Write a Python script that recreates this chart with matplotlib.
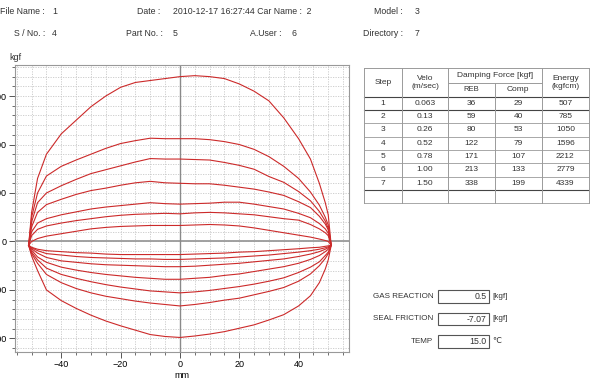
import matplotlib
matplotlib.use("Agg")
import matplotlib.pyplot as plt
from matplotlib.ticker import MultipleLocator

plt.rcParams['font.family'] = ['Liberation Sans', 'DejaVu Sans']

# header fields
header_row1 = [("File Name :", "1"), ("Date :", "2010-12-17 16:27:44 Car Name :  2"), ("Model :", "3")]
header_row2 = [("S / No. :", "4"), ("Part No. :", "5"), ("A.User :", "6"), ("Directory :", "7")]

# table data
steps = [1, 2, 3, 4, 5, 6, 7]
velo = ["0.063", "0.13", "0.26", "0.52", "0.78", "1.00", "1.50"]
reb_max = [36, 59, 80, 122, 171, 213, 338]
comp_max = [29, 40, 53, 79, 107, 133, 199]
energy = [507, 785, 1050, 1596, 2212, 2779, 4339]

gas_reaction = "0.5"
seal_friction = "-7.07"
temp = "15.0"

disp = [-51, -50, -48, -45, -40, -35, -30, -25, -20, -15, -10, -5, 0,
        5, 10, 15, 20, 25, 30, 35, 40, 44, 47, 49, 50, 51]

reb_force = [
    [-8, 0, 6, 11, 16, 21, 26, 29, 31, 32, 33, 33, 33, 34, 35, 34, 32, 28, 23, 18, 13, 9, 5, 2, 0, -8],
    [-8, 12, 25, 32, 38, 43, 47, 51, 54, 56, 57, 58, 57, 59, 60, 59, 57, 55, 51, 47, 44, 35, 26, 18, 12, -8],
    [-8, 20, 38, 47, 55, 61, 67, 71, 74, 77, 80, 78, 77, 78, 79, 81, 81, 77, 72, 67, 58, 49, 37, 26, 17, -8],
    [-8, 30, 60, 76, 87, 97, 105, 110, 116, 121, 124, 121, 120, 119, 119, 116, 112, 108, 102, 95, 82, 70, 52, 36, 24, -8],
    [-8, 40, 80, 100, 115, 128, 140, 148, 156, 164, 171, 170, 170, 169, 168, 163, 157, 149, 134, 122, 103, 84, 62, 42, 27, -8],
    [-8, 50, 100, 135, 155, 168, 180, 192, 202, 208, 213, 212, 212, 212, 210, 206, 200, 190, 175, 155, 130, 102, 75, 50, 34, -8],
    [-8, 60, 130, 180, 222, 250, 278, 300, 318, 328, 332, 336, 340, 342, 340, 336, 325, 310, 290, 255, 212, 170, 120, 80, 55, -8],
]

comp_force = [
    [-8, -12, -16, -19, -21, -23, -24, -26, -27, -27, -27, -27, -27, -26, -25, -24, -22, -21, -19, -17, -15, -13, -12, -10, -9, -8],
    [-8, -13, -19, -25, -28, -31, -33, -34, -35, -36, -36, -37, -37, -36, -35, -34, -32, -30, -28, -25, -22, -19, -16, -13, -11, -8],
    [-8, -15, -24, -33, -40, -43, -46, -48, -49, -50, -51, -52, -52, -51, -49, -47, -45, -42, -39, -36, -31, -26, -21, -16, -13, -8],
    [-8, -18, -32, -43, -53, -59, -64, -68, -71, -74, -76, -78, -78, -76, -74, -70, -67, -62, -57, -52, -45, -37, -29, -21, -16, -8],
    [-8, -22, -38, -55, -68, -76, -83, -89, -94, -98, -102, -104, -106, -104, -101, -97, -93, -88, -82, -75, -64, -53, -42, -29, -22, -8],
    [-8, -25, -45, -68, -85, -97, -106, -113, -118, -123, -127, -130, -133, -130, -126, -121, -117, -110, -103, -95, -82, -67, -50, -35, -25, -8],
    [-8, -30, -60, -100, -122, -138, -152, -164, -174, -183, -192, -196, -198, -195, -191, -186, -179, -172, -162, -151, -133, -112, -85, -57, -38, -8],
]

W, H = 590, 379
fig = plt.figure(figsize=(W / 100, H / 100), dpi=100)
fig.patch.set_facecolor('white')

# --- main loop plot ---
ax = fig.add_axes([15 / W, 1 - 352 / H, 334 / W, 287 / H])
for r, c in zip(reb_force, comp_force):
    xs = disp + disp[::-1]
    ys = r + c[::-1]
    ax.plot(xs, ys, color='#cc2a2a', lw=0.8, zorder=3)

ax.axhline(0, color='#9a9a9a', lw=1.3, zorder=2)
ax.axvline(0, color='#8a8a8a', lw=1.0, zorder=2)
ax.set_xlim(-55.6, 57.0)
ax.set_ylim(-228, 364)
ax.xaxis.set_major_locator(MultipleLocator(20))
ax.xaxis.set_minor_locator(MultipleLocator(5))
ax.yaxis.set_major_locator(MultipleLocator(100))
ax.yaxis.set_minor_locator(MultipleLocator(20))
ax.grid(which='both', color='#c8c8c8', ls=(0, (1.5, 1.5)), lw=0.6, zorder=1)
ax.tick_params(which='major', length=4, width=0.7, color='#555555', labelsize=6.5, pad=2)
ax.tick_params(which='minor', length=2, width=0.6, color='#555555')
for s in ax.spines.values():
    s.set_color('#999999')
    s.set_linewidth(0.8)
ax.set_xlabel('mm', fontsize=6.5, labelpad=1)

# --- overlay in pixel coordinates for header, table and boxes ---
ov = fig.add_axes([0, 0, 1, 1])
ov.set_xlim(0, W)
ov.set_ylim(H, 0)
ov.axis('off')
ov.patch.set_alpha(0)

fs = 6.3
tc = '#333333'
# header row 1
ov.text(45, 11, header_row1[0][0], ha='right', va='center', fontsize=fs, color=tc)
ov.text(52, 11, header_row1[0][1], ha='left', va='center', fontsize=fs, color=tc)
ov.text(160, 11, header_row1[1][0], ha='right', va='center', fontsize=fs, color=tc)
ov.text(173, 11, header_row1[1][1], ha='left', va='center', fontsize=fs, color=tc)
ov.text(403, 11, header_row1[2][0], ha='right', va='center', fontsize=fs, color=tc)
ov.text(415, 11, header_row1[2][1], ha='left', va='center', fontsize=fs, color=tc)
# header row 2
for (lab, val), xr, xv in zip(header_row2, [45, 163, 282, 403], [52, 173, 292, 415]):
    ov.text(xr, 33, lab, ha='right', va='center', fontsize=fs, color=tc)
    ov.text(xv, 33, val, ha='left', va='center', fontsize=fs, color=tc)

ov.text(9, 57, 'kgf', ha='left', va='center', fontsize=6.5, color=tc)

# table
cols = [364, 401.7, 448.3, 495, 541.7, 589]
top, hmid, hbot = 68.3, 82.5, 96.7
rh = 13.3
n = len(steps)
bottom = hbot + rh * (n + 1)
lc = '#9a9a9a'
ov.plot([cols[0], cols[-1]], [top, top], color=lc, lw=0.7)
ov.plot([cols[2], cols[4]], [hmid, hmid], color=lc, lw=0.7)
for i in range(n + 2):
    y = hbot + rh * i
    dark = i in (0, 1, n)
    ov.plot([cols[0], cols[-1]], [y, y], color='#444444' if dark else lc, lw=0.8 if dark else 0.6)
for j, x in enumerate(cols):
    if j == 3:
        ov.plot([x, x], [hmid, bottom], color=lc, lw=0.7)
    else:
        ov.plot([x, x], [top, bottom], color=lc, lw=0.7)

tfs = 6.0
ov.text((cols[0] + cols[1]) / 2, (top + hbot) / 2, 'Step', ha='center', va='center', fontsize=tfs, color=tc)
ov.text((cols[1] + cols[2]) / 2, (top + hbot) / 2, 'Velo\n(m/sec)', ha='center', va='center',
        fontsize=tfs, color=tc, linespacing=1.4)
ov.text((cols[2] + cols[4]) / 2, (top + hmid) / 2, 'Damping Force [kgf]', ha='center', va='center',
        fontsize=tfs, color=tc)
ov.text((cols[2] + cols[3]) / 2, (hmid + hbot) / 2, 'REB', ha='center', va='center', fontsize=tfs - 0.5, color=tc)
ov.text((cols[3] + cols[4]) / 2, (hmid + hbot) / 2, 'Comp', ha='center', va='center', fontsize=tfs, color=tc)
ov.text((cols[4] + cols[5]) / 2, (top + hbot) / 2, 'Energy\n(kgfcm)', ha='center', va='center',
        fontsize=tfs, color=tc, linespacing=1.4)
for i in range(n):
    yc = hbot + rh * (i + 0.5)
    row = [str(steps[i]), velo[i], str(reb_max[i]), str(comp_max[i]), str(energy[i])]
    for j, v in enumerate(row):
        ov.text((cols[j] + cols[j + 1]) / 2, yc, v, ha='center', va='center', fontsize=tfs, color=tc)

# value boxes
boxes = [("GAS REACTION", gas_reaction, "[kgf]"), ("SEAL FRICTION", seal_friction, "[kgf]"),
         ("TEMP", temp, "\u2103")]
for k, (lab, val, unit) in enumerate(boxes):
    yc = 296.5 + k * 22.5
    ov.add_patch(plt.Rectangle((437.7, yc - 6.3), 51.3, 12.6, fill=False, ec='#555555', lw=0.8))
    ov.text(433.3, yc, lab, ha='right', va='center', fontsize=5.8, color=tc)
    ov.text(486.5, yc, val, ha='right', va='center', fontsize=6.3, color=tc)
    ov.text(492, yc, unit, ha='left', va='center', fontsize=5.8, color=tc,
            family=['Liberation Sans', 'DejaVu Sans'])

fig.savefig('out.png', dpi=100)
